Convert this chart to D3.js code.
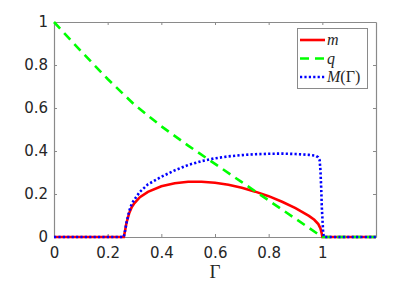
<!DOCTYPE html>
<html>
<head>
<meta charset="utf-8">
<script src="https://cdn.jsdelivr.net/npm/d3@7"></script>
<style>
body { margin: 0; background: #fff; }
</style>
</head>
<body>
<div id="chart"></div>
<script>
// data
var xTicks = [0, 0.2, 0.4, 0.6, 0.8, 1];
var yTicks = [0, 0.2, 0.4, 0.6, 0.8, 1];

var mGamma = [0, 0.26, 0.265, 0.27, 0.28, 0.29, 0.3, 0.32, 0.35, 0.4, 0.45, 0.5, 0.55, 0.6, 0.65, 0.7, 0.75, 0.8, 0.85, 0.9, 0.95, 0.97, 0.985, 0.993, 0.998, 1.0, 1.2];
var mValues = [0, 0, 0.03, 0.065, 0.11, 0.14, 0.158, 0.185, 0.21, 0.236, 0.25, 0.257, 0.257, 0.252, 0.243, 0.229, 0.211, 0.19, 0.164, 0.134, 0.098, 0.08, 0.06, 0.04, 0.015, 0, 0];

var qGamma = [0, 0.1, 0.2, 0.3, 0.4, 0.5, 0.6, 0.7, 0.8, 0.9, 1.0, 1.2];
var qValues = [1, 0.865, 0.735, 0.615, 0.515, 0.425, 0.34, 0.255, 0.17, 0.085, 0, 0];

var MGamma = [0, 0.26, 0.265, 0.27, 0.28, 0.29, 0.3, 0.32, 0.35, 0.4, 0.45, 0.5, 0.55, 0.6, 0.65, 0.7, 0.75, 0.8, 0.85, 0.9, 0.95, 0.975, 0.984, 0.99, 0.993, 0.996, 0.998, 1.001, 1.003, 1.006, 1.2];
var MValues = [0, 0, 0.03, 0.065, 0.12, 0.155, 0.175, 0.21, 0.245, 0.28, 0.31, 0.335, 0.353, 0.366, 0.375, 0.381, 0.385, 0.387, 0.388, 0.386, 0.382, 0.378, 0.371, 0.357, 0.31, 0.22, 0.14, 0.07, 0.02, 0, 0];

var seriesNames = ['m', 'q', 'M(\u0393)'];

var width = 416,
	height = 283,
	margin = {left: 54, top: 22, right: 40, bottom: 46};

var x = d3.scaleLinear()
	.domain([0, 1.2])
	.range([margin.left, width - margin.right]);
var y = d3.scaleLinear()
	.domain([0, 1])
	.range([height - margin.bottom, margin.top]);

var svg = d3.select('#chart').append('svg')
	.attr('width', width)
	.attr('height', height);

var axisColor = '#8a8a8a',
	textColor = '#262626';

// axes with inward ticks on all four sides
var xAxis = svg.append('g')
	.attr('transform', 'translate(0,' + y(0) + ')')
	.call(d3.axisBottom(x).tickValues(xTicks).tickSizeInner(-3).tickSizeOuter(0).tickPadding(10).tickFormat(d3.format('')));
var xTop = svg.append('g')
	.attr('transform', 'translate(0,' + y(1) + ')')
	.call(d3.axisTop(x).tickValues(xTicks).tickSizeInner(-3).tickSizeOuter(0).tickFormat(''));
var yAxis = svg.append('g')
	.attr('transform', 'translate(' + x(0) + ',0)')
	.call(d3.axisLeft(y).tickValues(yTicks).tickSizeInner(-3).tickSizeOuter(0).tickPadding(6).tickFormat(d3.format('')));
var yRight = svg.append('g')
	.attr('transform', 'translate(' + x(1.2) + ',0)')
	.call(d3.axisRight(y).tickValues(yTicks).tickSizeInner(-3).tickSizeOuter(0).tickFormat(''));

[xAxis, xTop, yAxis, yRight].forEach(function(g){
	g.selectAll('path').attr('stroke', axisColor).attr('stroke-width', 1.2);
	g.selectAll('line').attr('stroke', axisColor);
	g.selectAll('text')
		.attr('fill', textColor)
		.style('font-family', 'DejaVu Sans, sans-serif')
		.style('font-size', '15px');
});

svg.append('text')
	.attr('x', x(0.6))
	.attr('y', 278)
	.attr('text-anchor', 'middle')
	.attr('fill', textColor)
	.style('font-family', 'Liberation Serif, DejaVu Serif, serif')
	.style('font-size', '19px')
	.text('\u0393');

// curves
var line = d3.line()
	.x(function(d){ return x(d[0]); })
	.y(function(d){ return y(d[1]); });

function pairs(gs, vs){
	return gs.map(function(g, i){ return [g, vs[i]]; });
}

var styles = [
	{color: '#ff0000', dash: null},
	{color: '#00ff00', dash: '9,6'},
	{color: '#0000ff', dash: '2.2,2.2'}
];
var series = [pairs(mGamma, mValues), pairs(qGamma, qValues), pairs(MGamma, MValues)];

series.forEach(function(s, i){
	svg.append('path')
		.datum(s)
		.attr('d', line)
		.attr('fill', 'none')
		.attr('stroke', styles[i].color)
		.attr('stroke-width', 2.6)
		.attr('stroke-dasharray', styles[i].dash);
});

// legend
var legend = svg.append('g');
legend.append('rect')
	.attr('x', 297.5)
	.attr('y', 28.5)
	.attr('width', 70)
	.attr('height', 60)
	.attr('fill', '#fff')
	.attr('stroke', axisColor);

seriesNames.forEach(function(name, i){
	var ly = 40 + i * 18.5;
	legend.append('line')
		.attr('x1', 300).attr('x2', 325)
		.attr('y1', ly).attr('y2', ly)
		.attr('stroke', styles[i].color)
		.attr('stroke-width', 2.6)
		.attr('stroke-dasharray', styles[i].dash);
	var t = legend.append('text')
		.attr('x', 327)
		.attr('y', ly + 5)
		.attr('fill', textColor)
		.style('font-family', 'Liberation Serif, DejaVu Serif, serif')
		.style('font-size', '16px');
	if (i < 2) {
		t.style('font-style', 'italic').text(name);
	} else {
		t.append('tspan').style('font-style', 'italic').text('M');
		t.append('tspan').text('(\u0393)');
	}
});
</script>
</body>
</html>
